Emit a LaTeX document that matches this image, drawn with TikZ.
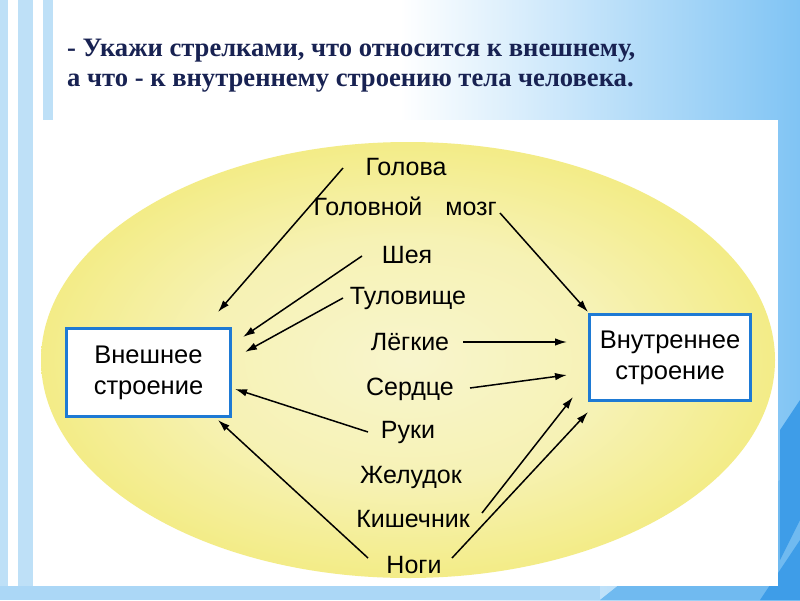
\documentclass[tikz,border=0pt]{standalone}
\usepackage{fontspec}
\setmainfont{Liberation Sans}
\newfontfamily\titlefont{Liberation Serif}
\usetikzlibrary{arrows.meta,calc}
\definecolor{navy}{RGB}{24,34,82}
\definecolor{bgb}{RGB}{128,196,244}
\definecolor{bgdark}{RGB}{62,157,232}
\definecolor{bgmid}{RGB}{112,186,240}
\definecolor{stripe}{RGB}{190,224,247}
\definecolor{boxblue}{RGB}{30,122,212}
\definecolor{yin}{RGB}{248,245,205}
\definecolor{yout}{RGB}{243,236,135}
\pgfdeclareradialshading{yell}{\pgfpoint{0bp}{0bp}}{color(0bp)=(yin); color(14bp)=(yin!65!yout); color(25bp)=(yout); color(50bp)=(yout)}
\begin{document}
\begin{tikzpicture}[x=1pt,y=-1pt,
  lbl/.style={font=\fontsize{25}{28}\selectfont, inner sep=0pt, anchor=base, text=black},
  box/.style={draw=boxblue, line width=3pt, fill=white, align=center, inner sep=0pt,
              font=\fontsize{25.5}{31}\selectfont},
  arr/.style={line width=1.5pt, -{Latex[length=12pt,width=7.5pt]}},
  ttl/.style={font=\titlefont\bfseries\fontsize{26.6}{30}\selectfont, text=navy, inner sep=0pt, anchor=base west}]
\useasboundingbox (0,0) rectangle (800,600);
% background
\fill[white] (0,0) rectangle (400,600);
\shade[left color=white, right color=bgb] (400,0) rectangle (800,600);
\fill[stripe] (0,0) rectangle (8,600);
\fill[stripe] (18,0) rectangle (33,600);
\fill[stripe] (43,0) rectangle (53,600);
\fill[bgmid] (600,600) -- (700,520) -- (800,470) -- (800,600) -- cycle;
\fill[bgdark] (760,600) -- (800,540) -- (800,600) -- cycle;
\fill[bgdark] (780,430) -- (800,400) -- (800,520) -- (780,560) -- cycle;
\fill[stripe!70!bgb] (0,586) rectangle (600,600);
% picture area
\fill[white] (36,120) rectangle (778,586);
\shade[shading=yell] (408,360) ellipse [x radius=367pt, y radius=218pt];
% title
\node[ttl] (t1) at (67,56) {- Укажи стрелками, что относится к внешнему,};
\node[ttl] (t2) at (67,86) {а что - к внутреннему строению тела человека.};
% boxes
\node[box, minimum width=164pt, minimum height=88pt] (vnesh) at (148.5,372.5) {Внешнее\\строение};
\node[box, minimum width=161pt, minimum height=86pt] (vnutr) at (670,357.5) {Внутреннее\\строение};
% labels
\node[lbl] (golova) at (406,175) {Голова};
\node[lbl] (golovnoy) at (368,215) {Головной};
\node[lbl] (mozg) at (471,215) {мозг};
\node[lbl] (sheya) at (407,263) {Шея};
\node[lbl] (tulov) at (408,304) {Туловище};
\node[lbl] (legkie) at (410,350) {Лёгкие};
\node[lbl] (serdce) at (410,395) {Сердце};
\node[lbl] (ruki) at (408,438) {Руки};
\node[lbl] (zhel) at (411,483) {Желудок};
\node[lbl] (kish) at (413,527) {Кишечник};
\node[lbl] (nogi) at (414,573) {Ноги};
% arrows to external
\draw[arr] ($(golova.base)+(-63,-7)$) -- ($(vnesh.center)+(69.5,-60.5)$);
\draw[arr] ($(sheya.base)+(-45,-7)$) -- ($(vnesh.center)+(94.5,-35.5)$);
\draw[arr] ($(tulov.base)+(-65,-6)$) -- ($(vnesh.center)+(96.5,-20.5)$);
\draw[arr] ($(ruki.base)+(-40,-6)$) -- ($(vnesh.center)+(86.5,16.5)$);
\draw[arr] ($(nogi.base)+(-46,-15)$) -- ($(vnesh.center)+(69.5,47.5)$);
% arrows to internal
\draw[arr] ($(mozg.base)+(29,-2)$) -- ($(vnutr.center)+(-82,-45.5)$);
\draw[arr] ($(legkie.base)+(53,-8)$) -- ($(vnutr.center)+(-103,-15.5)$);
\draw[arr] ($(serdce.base)+(60,-7)$) -- ($(vnutr.center)+(-103,17.5)$);
\draw[arr] ($(kish.base)+(69,-14)$) -- ($(vnutr.center)+(-97,39.5)$);
\draw[arr] ($(nogi.base)+(38,-15)$) -- ($(vnutr.center)+(-82,54.5)$);
\end{tikzpicture}
\end{document}
